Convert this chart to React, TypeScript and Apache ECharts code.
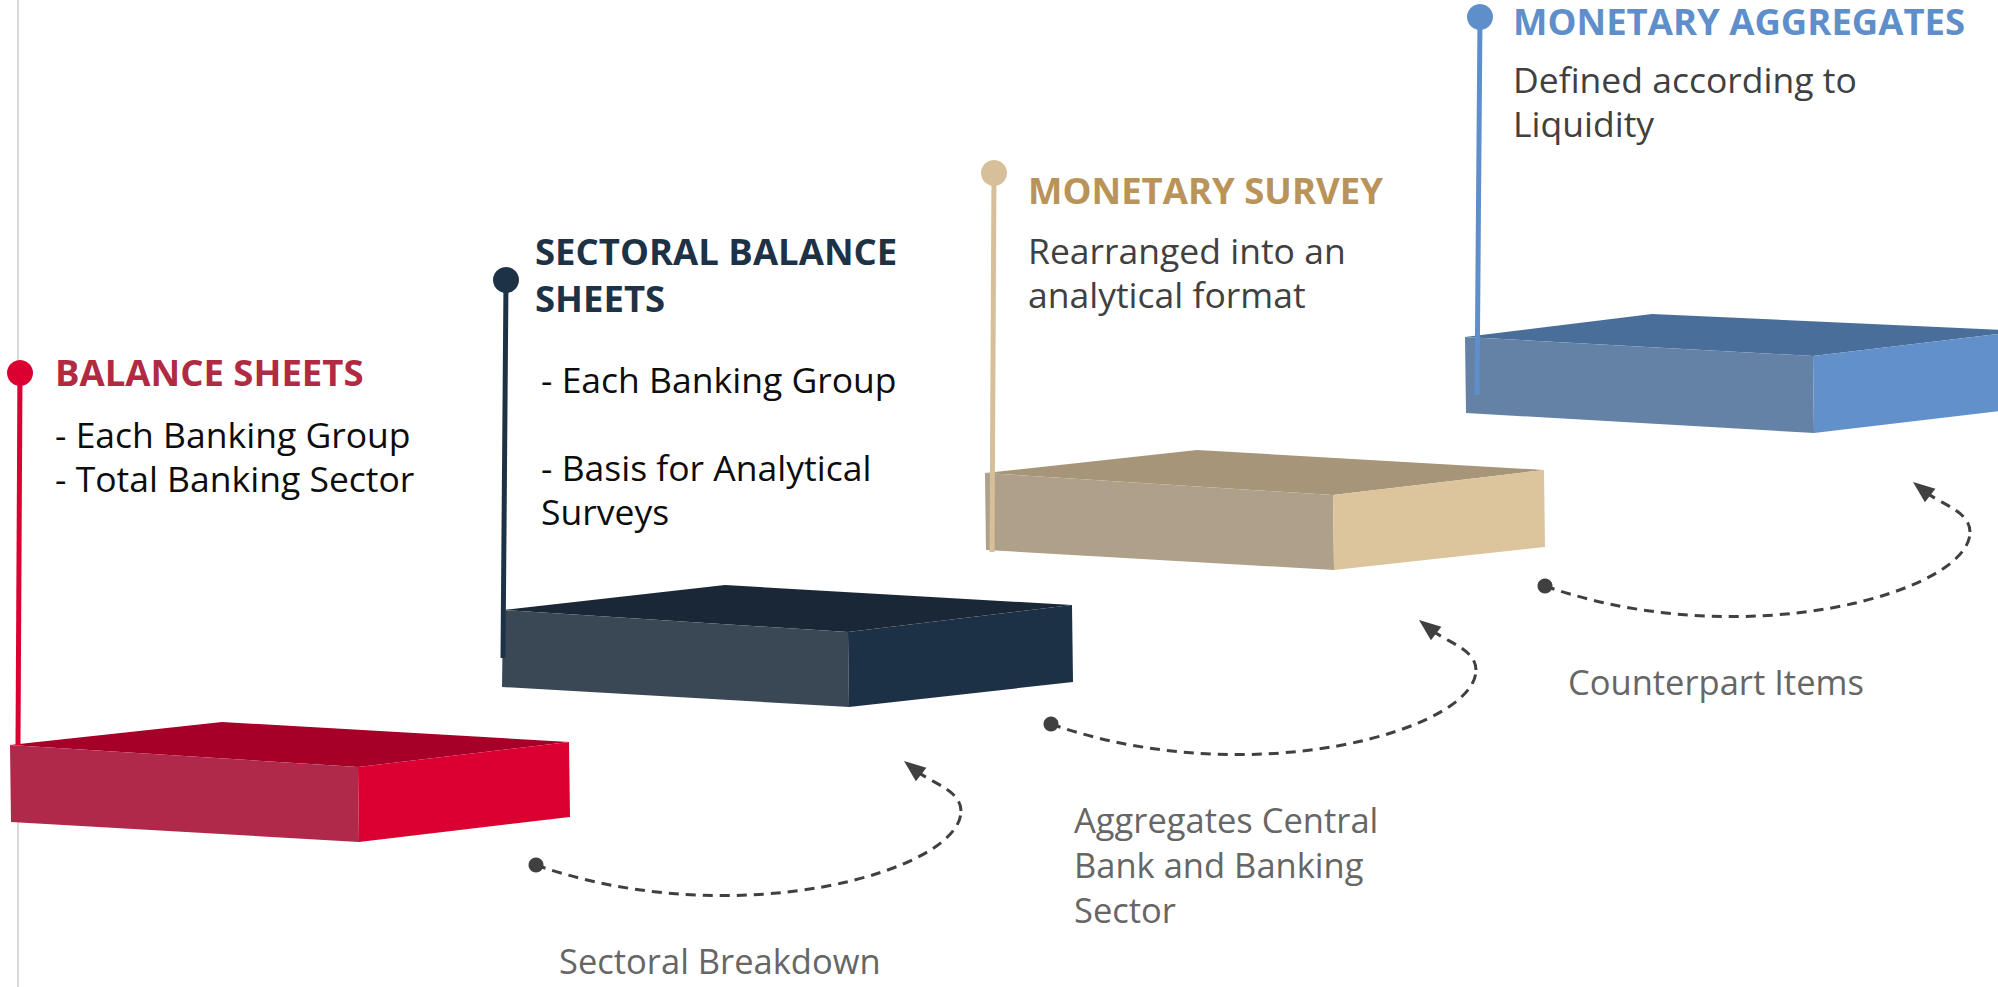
import React, { useEffect, useRef } from "react";
import * as echarts from "echarts";

// ---------- content ----------
const stageTitles: string[][] = [
  ["BALANCE SHEETS"],
  ["SECTORAL BALANCE", "SHEETS"],
  ["MONETARY SURVEY"],
  ["MONETARY AGGREGATES"],
];
const stageNotes: string[][] = [
  ["- Each Banking Group", "- Total Banking Sector"],
  ["- Each Banking Group", "", "- Basis for Analytical", "Surveys"],
  ["Rearranged into an", "analytical format"],
  ["Defined according to", "Liquidity"],
];
const connectorLabels: string[][] = [
  ["Sectoral Breakdown"],
  ["Aggregates Central", "Bank and Banking", "Sector"],
  ["Counterpart Items"],
];

// ---------- styles ----------
const blockColors = [
  { top: "#a60029", left: "#b0294a", right: "#dc0032" },
  { top: "#1a2736", left: "#3a4856", right: "#1d3146" },
  { top: "#a69579", left: "#afa089", right: "#dcc49d" },
  { top: "#4a6e9a", left: "#6482a6", right: "#6290cb" },
];
const pinColors = ["#dc0032", "#1e3246", "#d6bf99", "#5f8fca"];
const titleColors = ["#b22a42", "#1e3246", "#b99358", "#5f8fca"];
const noteColors = ["#0d0d0d", "#0d0d0d", "#404040", "#404040"];
const connectorColor = "#404040";
const labelColor = "#666666";
const FONT = "'Open Sans', 'Noto Sans', sans-serif";

// ---------- layout ----------
const W = 1998;
const H = 987;
type P = [number, number];
const blockLayout: { lf: P; a: P; rb: P; fm: P; bl: P; bm: P; br: P }[] = [
  { lf: [10, 745], a: [222, 722], rb: [569, 742], fm: [358, 767], bl: [11, 822], bm: [359, 842], br: [570, 817] },
  { lf: [503, 610], a: [725, 585], rb: [1072, 605], fm: [848, 632], bl: [502, 687], bm: [849, 707], br: [1073, 682] },
  { lf: [985, 473], a: [1197, 450], rb: [1544, 470], fm: [1333, 495], bl: [986, 550], bm: [1334, 570], br: [1545, 547] },
  { lf: [1465, 337], a: [1652, 314], rb: [2024, 331], fm: [1813, 356], bl: [1466, 413], bm: [1814, 433], br: [2025, 408] },
];
const pinLayout = [
  { cx: 20, cy: 373, bx: 18, by: 745 },
  { cx: 506, cy: 280, bx: 503, by: 658 },
  { cx: 994, cy: 173, bx: 992, by: 552 },
  { cx: 1480, cy: 17, bx: 1477, by: 395 },
];
const titlePos = [
  { x: 55, base: 386 },
  { x: 535, base: 265 },
  { x: 1028, base: 204 },
  { x: 1513, base: 35 },
];
const notePos = [
  { x: 55, base: 447 },
  { x: 541, base: 392 },
  { x: 1028, base: 263 },
  { x: 1513, base: 92 },
];
const connectorDots: P[] = [
  [536, 865],
  [1051, 724],
  [1545, 586],
];

const TITLE_FS = 36.5;
const TITLE_LH = 47;
const NOTE_FS = 35.5;
const NOTE_LH = 44;
const LABEL_FS = 34.5;
const LABEL_LH = 45;
const BASE_K = 0.37;

function textLine(x: number, base: number, text: string, fs: number, weight: string | number, fill: string) {
  return {
    type: "text",
    x,
    y: base - BASE_K * fs,
    z: 20,
    style: {
      text,
      fontFamily: FONT,
      fontSize: fs,
      fontWeight: weight,
      fill,
      align: "left",
      textAlign: "left",
      verticalAlign: "middle",
      textVerticalAlign: "middle",
    },
  };
}

function buildGraphics() {
  const els: any[] = [];
  // faint left guide line
  els.push({
    type: "line",
    z: 1,
    shape: { x1: 18, y1: 0, x2: 18, y2: H },
    style: { stroke: "#d9d9d9", lineWidth: 2 },
  });

  blockLayout.forEach((b, i) => {
    const c = blockColors[i];
    els.push({
      type: "polygon",
      z: 5,
      shape: { points: [b.lf, b.a, b.rb, b.fm] },
      style: { fill: c.top },
    });
    els.push({
      type: "polygon",
      z: 5,
      shape: { points: [b.lf, b.fm, b.bm, b.bl] },
      style: { fill: c.left },
    });
    els.push({
      type: "polygon",
      z: 5,
      shape: { points: [b.fm, b.rb, b.br, b.bm] },
      style: { fill: c.right },
    });
  });

  pinLayout.forEach((p, i) => {
    els.push({
      type: "line",
      z: 8,
      shape: { x1: p.cx, y1: p.cy, x2: p.bx, y2: p.by },
      style: { stroke: pinColors[i], lineWidth: 5 },
    });
    els.push({
      type: "circle",
      z: 9,
      shape: { cx: p.cx, cy: p.cy, r: 13 },
      style: { fill: pinColors[i] },
    });
  });

  stageTitles.forEach((lines, i) => {
    lines.forEach((t, j) => {
      els.push(textLine(titlePos[i].x, titlePos[i].base + j * TITLE_LH, t, TITLE_FS, 700, titleColors[i]));
    });
  });
  stageNotes.forEach((lines, i) => {
    lines.forEach((t, j) => {
      if (!t) return;
      els.push(textLine(notePos[i].x, notePos[i].base + j * NOTE_LH, t, NOTE_FS, 400, noteColors[i]));
    });
  });

  // connectors: dashed loop from dot to arrow tip
  const segA = { p1: [200, 70], p2: [425, 6], p3: [425, -54] };
  const segB = { p1: [425, -74], p2: [398, -81], p3: [382, -93] };
  const tip: P = [368, -104];
  connectorDots.forEach(([dx, dy], i) => {
    els.push({
      type: "bezierCurve",
      z: 6,
      shape: {
        x1: dx, y1: dy,
        cpx1: dx + segA.p1[0], cpy1: dy + segA.p1[1],
        cpx2: dx + segA.p2[0], cpy2: dy + segA.p2[1],
        x2: dx + segA.p3[0], y2: dy + segA.p3[1],
      },
      style: { stroke: connectorColor, lineWidth: 3, lineDash: [10, 7], fill: null },
    });
    els.push({
      type: "bezierCurve",
      z: 6,
      shape: {
        x1: dx + segA.p3[0], y1: dy + segA.p3[1],
        cpx1: dx + segB.p1[0], cpy1: dy + segB.p1[1],
        cpx2: dx + segB.p2[0], cpy2: dy + segB.p2[1],
        x2: dx + segB.p3[0], y2: dy + segB.p3[1],
      },
      style: { stroke: connectorColor, lineWidth: 3, lineDash: [10, 7], fill: null },
    });
    // arrow head
    const bx = dx + segB.p3[0];
    const by = dy + segB.p3[1];
    const tx = dx + tip[0];
    const ty = dy + tip[1];
    const len = Math.hypot(tx - bx, ty - by);
    const ux = (tx - bx) / len;
    const uy = (ty - by) / len;
    const hw = 8.5;
    const back = 4;
    els.push({
      type: "polygon",
      z: 7,
      shape: {
        points: [
          [tx, ty],
          [bx - ux * back - uy * hw, by - uy * back + ux * hw],
          [bx - ux * back + uy * hw, by - uy * back - ux * hw],
        ],
      },
      style: { fill: connectorColor },
    });
    els.push({
      type: "circle",
      z: 7,
      shape: { cx: dx, cy: dy, r: 7.5 },
      style: { fill: connectorColor },
    });
    connectorLabels[i].forEach((t, j) => {
      els.push(textLine(dx + 23, dy + 108 + j * LABEL_LH, t, LABEL_FS, 400, labelColor));
    });
  });

  return els;
}

export default function App() {
  const ref = useRef<HTMLDivElement>(null);
  useEffect(() => {
    document.body.style.margin = "0";
    document.body.style.overflow = "hidden";
    if (!ref.current) return;
    const chart = echarts.init(ref.current, undefined, { renderer: "svg", width: W, height: H });
    chart.setOption({
      animation: false,
      backgroundColor: "#ffffff",
      graphic: { elements: buildGraphics() },
    });
    return () => chart.dispose();
  }, []);
  return (
    <div
      ref={ref}
      style={{ position: "absolute", left: 0, top: 0, width: W, height: H, background: "#fff" }}
    />
  );
}
